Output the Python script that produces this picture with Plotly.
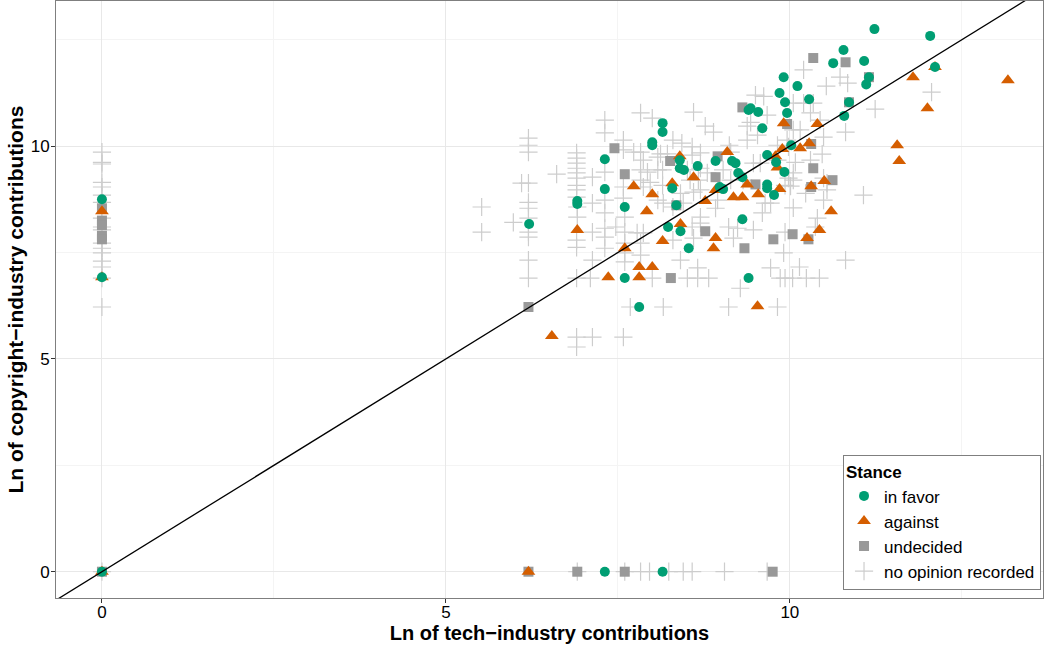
import plotly.graph_objects as go

# ---------------- data (ln of contributions) ----------------
fav_x = [11.23, 12.04, 10.78, 10.63, 11.08, 11.15, 11.11, 12.11, 9.91, 10.11, 9.85, 9.93, 9.96, 10.28,
         10.86, 10.79, 10.02, 9.92, 9.40, 9.43, 9.54, 9.60, 8.15, 8.15, 8.00, 8.00, 7.31, 7.31, 8.40,
         8.40, 8.46, 8.66, 8.92, 9.16, 9.21, 9.25, 9.31, 9.67, 9.80, 9.67, 9.67, 9.77, 8.29, 8.98, 9.03,
         8.35, 6.91, 6.91, 7.60, 6.21, 8.23, 8.41, 8.53, 9.31, 7.60, 9.40, 7.81, 0, 0, 0, 7.31, 8.15]
fav_y = [12.75, 12.59, 12.26, 11.95, 12.00, 11.62, 11.45, 11.86, 11.62, 11.41, 11.25, 11.03, 10.78, 11.10,
         11.03, 10.71, 10.02, 9.39, 10.85, 10.89, 10.80, 10.42, 10.54, 10.33, 10.09, 10.02, 9.69, 8.99, 9.67,
         9.48, 9.44, 9.53, 9.65, 9.65, 9.60, 9.37, 9.27, 9.79, 9.62, 9.10, 9.01, 8.85, 9.01, 9.04, 8.99,
         8.61, 8.71, 8.64, 8.57, 8.17, 8.10, 8.00, 7.60, 8.28, 6.90, 6.90, 6.22, 8.75, 6.92, 0, 0, 0]

ag_x = [13.17, 11.79, 12.11, 12.00, 11.56, 11.59, 9.91, 10.40, 10.28, 10.15, 9.89, 9.79, 9.82, 10.31,
        10.50, 9.85, 10.60, 10.43, 10.25, 9.09, 8.40, 8.60, 8.29, 8.00, 7.73, 9.38, 9.54, 9.18, 9.31,
        8.77, 8.92, 7.92, 8.41, 8.15, 8.92, 8.89, 6.91, 7.60, 7.81, 8.00, 7.81, 7.36, 6.54, 9.53,
        0, 0, 0, 6.20]
ag_y = [11.55, 11.62, 11.86, 10.89, 10.02, 9.65, 10.54, 10.52, 10.07, 9.95, 9.93, 9.76, 9.50, 9.06,
        9.18, 8.99, 8.47, 8.03, 7.84, 9.86, 9.76, 9.27, 9.13, 8.87, 9.06, 9.10, 8.87, 8.80, 8.80,
        8.71, 8.97, 8.47, 8.17, 7.77, 7.84, 7.60, 8.03, 7.60, 7.16, 7.16, 6.92, 6.92, 5.54, 6.24,
        8.47, 6.92, 0, 0]

und_x = [10.34, 10.81, 11.15, 10.86, 9.96, 10.31, 10.34, 10.62, 10.31, 10.04, 10.27, 9.31, 8.95, 8.26,
         8.92, 9.50, 7.45, 7.60, 8.35, 8.77, 9.34, 9.76, 8.27, 6.20,
         0, 0, 0, 0, 0, 0, 6.20, 6.91, 7.60, 9.75]
und_y = [12.07, 11.97, 11.62, 11.03, 10.52, 10.05, 9.48, 9.20, 9.04, 7.93, 7.81, 10.91, 9.76, 9.65,
         9.27, 9.10, 9.95, 9.34, 8.61, 8.00, 7.60, 7.81, 6.90, 6.22,
         8.54, 8.25, 8.14, 7.89, 7.81, 0, 0, 0, 0, 0]

no_x = [5.52, 5.52, 6.20, 6.20, 6.20, 6.10, 6.20, 6.20, 6.20, 5.98, 6.20, 6.20, 6.20, 6.20, 6.20, 6.61,
        6.90, 6.90, 6.90, 6.90, 6.90, 6.90, 6.90, 6.90, 6.90, 6.91, 6.91, 6.90, 6.90, 6.90, 6.90, 6.90,
        7.13, 7.13, 7.13, 7.13, 7.10, 7.13,
        7.31, 7.31, 7.31, 7.31, 7.31, 7.31, 7.31, 7.31, 7.47,
        7.58, 7.58, 7.73, 7.58, 7.58, 7.60, 7.60, 7.60, 7.60, 7.60, 7.58, 7.68,
        7.78, 7.87, 7.83, 7.83, 7.83, 7.83, 7.83, 7.83, 7.87, 7.87, 7.93, 7.97, 8.00, 8.00,
        8.08, 8.08, 8.08, 8.15, 8.15, 8.12, 8.22, 8.16, 8.16, 8.30, 8.30, 8.30, 8.43, 8.58, 8.58, 8.70,
        8.45, 8.41, 8.60, 8.70, 8.41,
        8.51, 8.55, 8.67, 8.70, 8.80, 8.51, 8.66, 8.82, 8.66, 8.58, 8.60, 8.70, 8.70, 8.60, 8.77, 8.89,
        8.92, 8.95, 9.03, 9.11, 9.18, 9.24, 9.12, 9.14, 9.14, 9.32, 9.11, 9.28,
        9.38, 9.43, 9.38, 9.53, 9.50, 9.62, 9.67, 9.47, 9.57, 9.47, 9.60, 9.64, 9.72, 9.72, 9.82, 9.82,
        9.82, 9.86, 9.91, 9.93, 9.93, 9.93, 9.96, 9.98, 9.98, 10.01, 10.05, 10.04,
        10.05, 10.05, 10.05, 10.05, 10.08, 10.14, 10.15, 10.20, 10.20, 10.23, 10.24, 10.30, 10.30, 10.34,
        10.37, 10.40, 10.43, 10.44, 10.47, 10.49, 10.49, 10.49, 10.53, 10.54, 10.54, 10.73, 10.84, 10.81,
        10.81, 11.07, 11.24, 12.06,
        0, 0, 0, 0, 0, 0, 0, 0, 0, 0, 0, 0, 0, 0, 0, 0, 0, 0,
        7.60, 7.83, 7.96, 8.24, 8.45, 8.58, 9.05, 9.67, 6.91]
no_y = [8.57, 7.98, 10.19, 10.02, 9.86, 9.13, 9.13, 8.68, 8.54, 8.21, 8.31, 7.98, 7.86, 7.32, 6.90, 9.34,
        9.84, 9.72, 9.60, 9.48, 9.37, 9.25, 9.08, 8.97, 8.80, 8.57, 8.33, 7.79, 7.62, 6.90, 5.51, 5.28,
        9.27, 8.66, 7.98, 7.32, 6.90, 5.51,
        10.61, 10.31, 9.39, 8.73, 8.43, 8.07, 7.86, 7.60, 8.10,
        10.14, 9.91, 9.86, 9.04, 8.78, 8.33, 7.98, 7.72, 7.49, 7.28, 5.51, 6.22,
        7.96, 7.96, 7.72, 7.44, 10.78, 9.86, 9.44, 9.20, 9.67, 9.04, 9.39, 9.15, 10.66, 6.90,
        9.74, 9.44, 8.73, 9.44, 9.08, 9.82, 9.82, 8.66, 6.22, 10.14, 8.57, 7.79, 10.07, 9.98, 9.79, 9.84,
        8.66, 8.89, 8.92, 8.97, 7.32,
        9.44, 9.20, 9.20, 9.48, 9.37, 6.90, 6.90, 6.90, 7.14, 8.10, 7.84, 8.33, 8.19, 10.80, 10.47, 10.33,
        8.54, 8.73, 9.44, 8.10, 7.84, 8.07, 10.02, 9.86, 9.20, 9.20, 6.22, 6.66,
        10.47, 10.56, 10.14, 10.26, 11.20, 11.17, 10.73, 9.60, 9.60, 8.03, 8.43, 8.66, 8.66, 7.14, 9.67, 10.02,
        6.22, 6.90, 7.49, 9.08, 7.98, 6.90, 10.14, 9.98, 9.25, 9.06, 8.55, 6.90,
        11.01, 10.38, 9.37, 9.20, 9.62, 7.16, 10.38, 11.79, 11.01, 8.89, 6.90, 10.78, 9.67, 11.01,
        8.10, 8.31, 6.90, 10.61, 9.81, 10.21, 9.25, 8.73, 11.41, 9.13, 8.97, 11.62, 11.48, 10.33,
        7.32, 8.85, 10.87, 11.27,
        9.86, 9.62, 9.58, 9.15, 9.04, 8.85, 8.68, 8.31, 8.10, 8.03, 7.72, 7.60, 7.49, 7.30, 7.16, 6.90, 6.22, 0,
        0, 0, 0, 0, 0, 0, 0, 0, 0]

# reference line y = intercept + slope * x
ref_intercept = 0.0
ref_slope = 1.0

x_range = [-0.668, 13.68]
y_range = [-0.618, 13.41]

FONT = "Liberation Sans, Arial, Helvetica, sans-serif"

fig = go.Figure()

fig.add_trace(go.Scatter(
    x=no_x, y=no_y, mode="markers", name="no opinion recorded", legendrank=4,
    marker=dict(symbol="cross-thin", size=13, color="#cdcdcd",
                line=dict(color="#cdcdcd", width=1.2))))
fig.add_trace(go.Scatter(
    x=und_x, y=und_y, mode="markers", name="undecided", legendrank=3,
    marker=dict(symbol="square", size=10, color="#999999", line=dict(width=0))))
fig.add_trace(go.Scatter(
    x=ag_x, y=ag_y, mode="markers", name="against", legendrank=2,
    marker=dict(symbol="triangle-up", size=12, color="#D55E00", line=dict(width=0))))
fig.add_trace(go.Scatter(
    x=fav_x, y=fav_y, mode="markers", name="in favor", legendrank=1,
    marker=dict(symbol="circle", size=10, color="#009E73", line=dict(width=0))))

lx = [x_range[0] - 1, x_range[1] + 1]
fig.add_trace(go.Scatter(
    x=lx, y=[ref_intercept + ref_slope * v for v in lx], mode="lines",
    line=dict(color="black", width=1.3), showlegend=False, hoverinfo="skip"))

axis_common = dict(
    ticks="outside", ticklen=4, tickwidth=1, tickcolor="#333333",
    showline=True, linecolor="#7f7f7f", linewidth=1, mirror=True,
    showgrid=True, gridcolor="#e8e8e8", gridwidth=1, zeroline=False,
    tickfont=dict(family=FONT, size=17, color="black"),
    minor=dict(dtick=2.5, tick0=0, showgrid=True, gridcolor="#f4f4f4", ticks=""),
)

fig.update_layout(
    width=1044, height=646,
    margin=dict(l=56, r=1, t=1, b=48),
    paper_bgcolor="white", plot_bgcolor="white",
    font=dict(family=FONT, color="black"),
    xaxis=dict(range=x_range, tickvals=[0, 5, 10], ticktext=["0", "5", "10"],
               ticklabelstandoff=-5,
               title=dict(text="Ln of tech\u2212industry contributions", standoff=4,
                          font=dict(family=FONT, size=20, color="black", weight="bold")),
               **axis_common),
    yaxis=dict(range=y_range, tickvals=[0, 5, 10], ticktext=["0", "5", "10"],
               ticklabelstandoff=-2,
               title=dict(text="Ln of copyright\u2212industry contributions", standoff=1,
                          font=dict(family=FONT, size=21, color="black", weight="bold")),
               **axis_common),
    legend=dict(
        title=dict(text="Stance", font=dict(family=FONT, size=17, color="black", weight="bold")),
        font=dict(family=FONT, size=17, color="black"),
        x=0.998, xanchor="right", y=0.013, yanchor="bottom",
        bgcolor="white", bordercolor="#7f7f7f", borderwidth=1,
        tracegroupgap=0, itemwidth=30,
    ),
    showlegend=True,
)

fig.write_html("out.html")
